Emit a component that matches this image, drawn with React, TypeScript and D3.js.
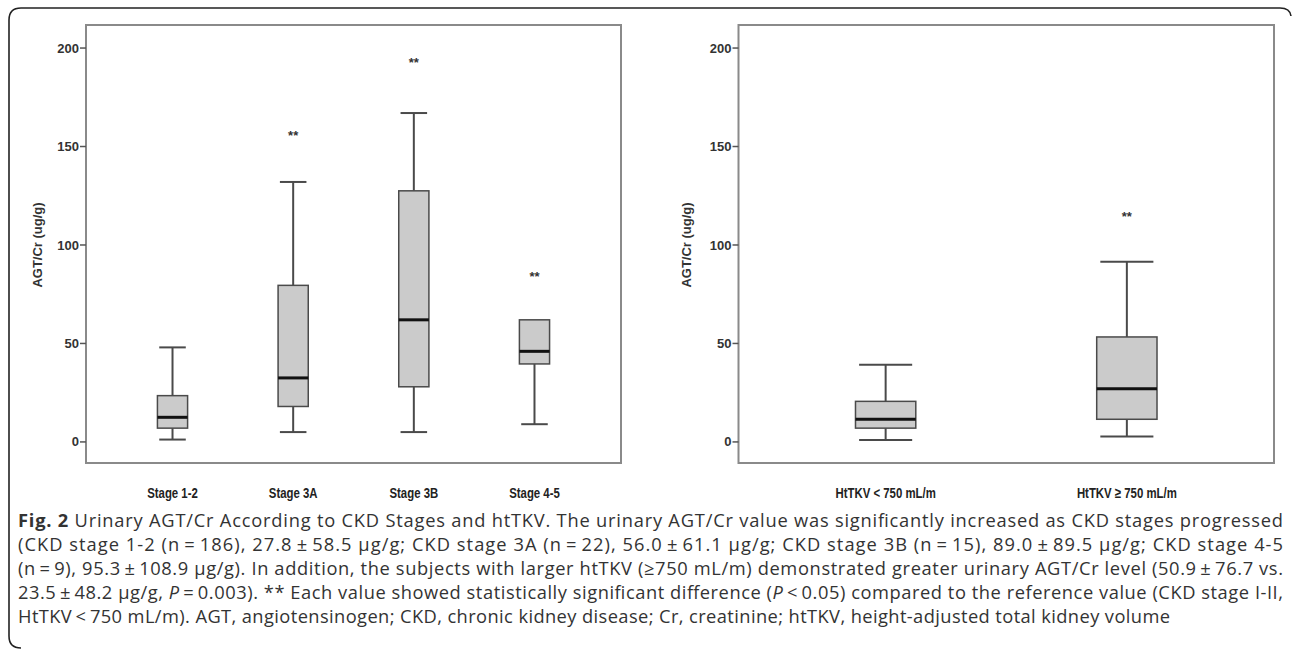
import React from 'react';
import * as d3 from 'd3';

const W = 1292;
const H = 653;

// left panel: CKD stages
const stageCats = ['Stage 1-2', 'Stage 3A', 'Stage 3B', 'Stage 4-5'];
const stageMin = [1.2, 5, 5, 9];
const stageQ1 = [7, 18, 28, 39.6];
const stageMedian = [12.5, 32.5, 62, 46];
const stageQ3 = [23.5, 79.5, 127.5, 62];
const stageMax = [48, 132, 167, 62];
const stageStars = [null, 157, 194, 85.3];

// right panel: htTKV
const tkvCats = ['HtTKV < 750 mL/m', 'HtTKV \u2265 750 mL/m'];
const tkvMin = [1, 2.7];
const tkvQ1 = [7, 11.5];
const tkvMedian = [11.5, 27];
const tkvQ3 = [20.6, 53.3];
const tkvMax = [39.2, 91.5];
const tkvStars = [null, 116];

const yTicks = [0, 50, 100, 150, 200];
const yTitle = 'AGT/Cr (ug/g)';

const captionLines = [
  [{ t: 'Fig. 2', b: true }, { t: ' Urinary AGT/Cr According to CKD Stages and htTKV. The urinary AGT/Cr value was significantly increased as CKD stages progressed' }],
  [{ t: '(CKD stage 1-2 (n\u2009=\u2009186), 27.8\u2009\u00b1\u200958.5 \u03bcg/g; CKD stage 3A (n\u2009=\u200922), 56.0\u2009\u00b1\u200961.1 \u03bcg/g; CKD stage 3B (n\u2009=\u200915), 89.0\u2009\u00b1\u200989.5 \u03bcg/g; CKD stage 4-5' }],
  [{ t: '(n\u2009=\u20099), 95.3\u2009\u00b1\u2009108.9 \u03bcg/g). In addition, the subjects with larger htTKV (\u2265750 mL/m) demonstrated greater urinary AGT/Cr level (50.9\u2009\u00b1\u200976.7 vs.' }],
  [{ t: '23.5\u2009\u00b1\u200948.2 \u03bcg/g, ' }, { t: 'P', i: true }, { t: '\u2009=\u20090.003). ** Each value showed statistically significant difference (' }, { t: 'P', i: true }, { t: '\u2009<\u20090.05) compared to the reference value (CKD stage I-II,' }],
  [{ t: 'HtTKV\u2009<\u2009750 mL/m). AGT, angiotensinogen; CKD, chronic kidney disease; Cr, creatinine; htTKV, height-adjusted total kidney volume' }],
];
// right end of each caption line (last line is not justified)
const captionEnds = [1283, 1283, 1283, 1283, 1170];

const yScale = d3.scaleLinear().domain([-10.7, 211.7]).range([463, 25]);

const AX_FONT = 'Liberation Sans, Arial, sans-serif';

const Panel = ({ x0, x1, pad, titleX, cats, mins, q1, med, q3, maxs, stars }) => {
  const x = d3.scalePoint().domain(cats).range([x0, x1]).padding(pad);
  const bw = x.step() * 0.25;
  const cap = bw * 0.44;
  const [y0, y1] = yScale.range();
  return (
    <g>
      <rect x={x0} y={y1} width={x1 - x0} height={y0 - y1} fill="none" stroke="#8a8a8a" strokeWidth={2} />
      {yTicks.map(t => (
        <g key={t}>
          <line x1={x0 - 6} x2={x0} y1={yScale(t)} y2={yScale(t)} stroke="#555" strokeWidth={1.5} />
          <text x={x0 - 7} y={yScale(t)} dy="0.35em" textAnchor="end" fontSize={13} fontWeight="bold"
            fontFamily={AX_FONT} fill="#333">{t}</text>
        </g>
      ))}
      <text transform={`translate(${titleX},${yScale(100)}) rotate(-90)`} textAnchor="middle" dy="0.35em"
        fontSize={13} fontWeight="bold" fontFamily={AX_FONT} fill="#333">{yTitle}</text>
      {cats.map((c, i) => {
        const cx = x(c);
        return (
          <g key={c}>
            <line x1={cx} x2={cx} y1={yScale(maxs[i])} y2={yScale(q3[i])} stroke="#4a4a4a" strokeWidth={2} />
            <line x1={cx} x2={cx} y1={yScale(q1[i])} y2={yScale(mins[i])} stroke="#4a4a4a" strokeWidth={2} />
            {maxs[i] > q3[i] && (
              <line x1={cx - cap} x2={cx + cap} y1={yScale(maxs[i])} y2={yScale(maxs[i])} stroke="#4a4a4a" strokeWidth={2} />
            )}
            <line x1={cx - cap} x2={cx + cap} y1={yScale(mins[i])} y2={yScale(mins[i])} stroke="#4a4a4a" strokeWidth={2} />
            <rect x={cx - bw / 2} y={yScale(q3[i])} width={bw} height={yScale(q1[i]) - yScale(q3[i])}
              fill="#cbcbcb" stroke="#4a4a4a" strokeWidth={1.5} />
            <line x1={cx - bw / 2} x2={cx + bw / 2} y1={yScale(med[i])} y2={yScale(med[i])} stroke="#111" strokeWidth={3} />
            {stars[i] != null && (
              <text x={cx} y={yScale(stars[i])} dy="0.55em" textAnchor="middle" fontSize={13} fontWeight="bold"
                fontFamily={AX_FONT} fill="#333">**</text>
            )}
            <text transform={`translate(${cx},498) scale(0.76,1)`} textAnchor="middle" fontSize={15} fontWeight="bold"
              fontFamily={AX_FONT} fill="#222">{c}</text>
          </g>
        );
      })}
    </g>
  );
};

export default function App() {
  const capX = 18;
  return (
    <svg width={W} height={H} style={{ position: 'absolute', left: 0, top: 0, background: '#fff' }}>
      <path d="M21,648 Q9,648 9,636 L9,20 Q9,8 21,8 L1280,8 Q1290,8 1291,16" fill="none" stroke="#222" strokeWidth={1.6} />
      <Panel x0={86} x1={621} pad={0.717} titleX={37} cats={stageCats} mins={stageMin} q1={stageQ1}
        med={stageMedian} q3={stageQ3} maxs={stageMax} stars={stageStars} />
      <Panel x0={738.5} x1={1274} pad={0.61} titleX={686} cats={tkvCats} mins={tkvMin} q1={tkvQ1}
        med={tkvMedian} q3={tkvQ3} maxs={tkvMax} stars={tkvStars} />
      {captionLines.map((line, li) => (
        <text key={li} x={capX} y={527 + li * 24} fontSize={18.3} fill="#333"
          fontFamily="Open Sans, Noto Sans, sans-serif"
          textLength={captionEnds[li] - capX} lengthAdjust="spacing">
          {line.map((s, si) => (
            <tspan key={si} fontWeight={s.b ? 'bold' : 'normal'} fontStyle={s.i ? 'italic' : 'normal'}>{s.t}</tspan>
          ))}
        </text>
      ))}
    </svg>
  );
}
